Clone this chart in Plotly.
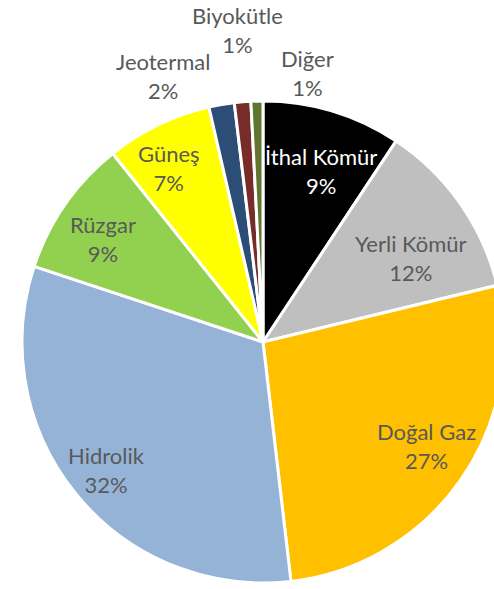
import math
import plotly.graph_objects as go

labels = ["İthal Kömür", "Yerli Kömür", "Doğal Gaz", "Hidrolik", "Rüzgar",
          "Güneş", "Jeotermal", "Biyokütle", "Diğer"]
values = [9.3, 11.9, 26.9, 31.9, 9.2, 7.1, 1.7, 1.1, 0.8]
colors = ["#000000", "#BFBFBF", "#FFC000", "#95B3D7", "#92D050",
          "#FFFF00", "#2C4D75", "#772C2A", "#5F7530"]
text_colors = ["#FFFFFF", "#595959", "#595959", "#595959", "#595959",
               "#595959", "#595959", "#595959", "#595959"]

# label placement (style): angle in degrees clockwise from 12 o'clock, radius as fraction of pie radius
label_angle = [18.7, 60.4, 122.4, 230.6, 302.6, 331.5, 339.4, 355.3, 9.3]
label_rad = [0.75, 0.705, 0.805, 0.84, 0.79, 0.82, 1.18, 1.30, 1.13]

W, H = 504, 589
PX0, PX1 = 22, 504          # pie domain in px (x)
PY0, PY1 = 101, 583         # pie domain in px (y, from top)
cx, cy = (PX0 + PX1) / 2, (PY0 + PY1) / 2
R = min(PX1 - PX0, PY1 - PY0) / 2

fig = go.Figure(go.Pie(
    labels=labels,
    values=values,
    sort=False,
    direction="clockwise",
    rotation=0,
    marker=dict(colors=colors, line=dict(color="#FFFFFF", width=3)),
    textinfo="none",
    showlegend=False,
    hoverinfo="label+percent",
    domain=dict(x=[PX0 / W, PX1 / W], y=[1 - PY1 / H, 1 - PY0 / H]),
))

total = sum(values)
for lab, v, col, ang, rf in zip(labels, values, text_colors, label_angle, label_rad):
    a = math.radians(ang)
    px = cx + rf * R * math.sin(a)
    py = cy - rf * R * math.cos(a)
    fig.add_annotation(
        x=px / W, y=1 - py / H, xref="paper", yref="paper",
        text=f"{lab}<br>{round(100 * v / total)}%",
        showarrow=False, xanchor="center", yanchor="middle",
        font=dict(family="Lato", size=22, color=col),
    )

fig.update_layout(
    width=W, height=H,
    margin=dict(l=0, r=0, t=0, b=0),
    paper_bgcolor="white",
    font=dict(family="Lato", color="#595959"),
)
fig.write_html("out.html",
               post_script="document.body.style.margin='0';document.body.style.overflow='hidden';")
